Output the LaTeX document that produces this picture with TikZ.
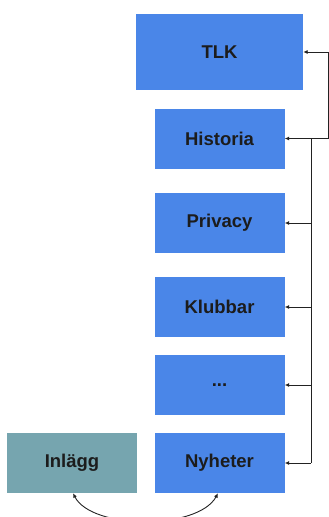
\documentclass[tikz,border=0pt]{standalone}
\usepackage{fontspec}
\setmainfont{Liberation Sans}
\usetikzlibrary{arrows.meta}
\definecolor{boxblue}{HTML}{4A86E8}
\definecolor{boxteal}{HTML}{76A5AF}
\definecolor{txt}{HTML}{1C1C1C}
\definecolor{wire}{HTML}{222222}
\begin{document}
\begin{tikzpicture}[x=1pt,y=-1pt,
  box/.style={fill=boxblue, draw=none, minimum width=130pt, minimum height=60pt,
    inner sep=0pt, text=txt, font=\fontsize{18.5}{20}\selectfont\bfseries},
  wireline/.style={draw=wire, line width=0.9pt},
  tip/.style={-{Latex[length=4.5pt,width=4pt]}},
  tips/.style={{Latex[length=4.5pt,width=4pt]}-{Latex[length=4.5pt,width=4pt]}}]
  \useasboundingbox (0,0) rectangle (329,517);
  \clip (0,0) rectangle (329,517);

  % page boxes
  \node[box, minimum width=167pt, minimum height=76pt] (tlk) at (219.5,52) {TLK};
  \node[box] (hist) at (219.5,138.5) {Historia};
  \node[box] (priv) at (219.5,223) {Privacy};
  \node[box] (klub) at (219.5,307) {Klubbar};
  \node[box] (dots) at (219.5,385) {...};
  \node[box] (nyh)  at (219.5,463) {Nyheter};
  \node[box, fill=boxteal] (inl) at (72,463) {Inlägg};

  % outer link between TLK and Historia
  \coordinate (rx) at (328,0);
  \draw[wireline, tips] (tlk.east) -- (tlk.east -| rx) -- (hist.east -| rx) -- (hist.east);

  % trunk feeding the sub pages
  \coordinate (tx) at (311,0);
  \draw[wireline] (hist.east -| tx) -- (nyh.east -| tx);
  \foreach \n in {priv,klub,dots,nyh}
    \draw[wireline, tip] (\n.east -| tx) -- (\n.east);

  % Inlägg <-> Nyheter
  \draw[wireline, tips] ([xshift=1pt]inl.south) .. controls (92,530) and (198,530) .. ([xshift=-1.5pt]nyh.south);
\end{tikzpicture}
\end{document}
